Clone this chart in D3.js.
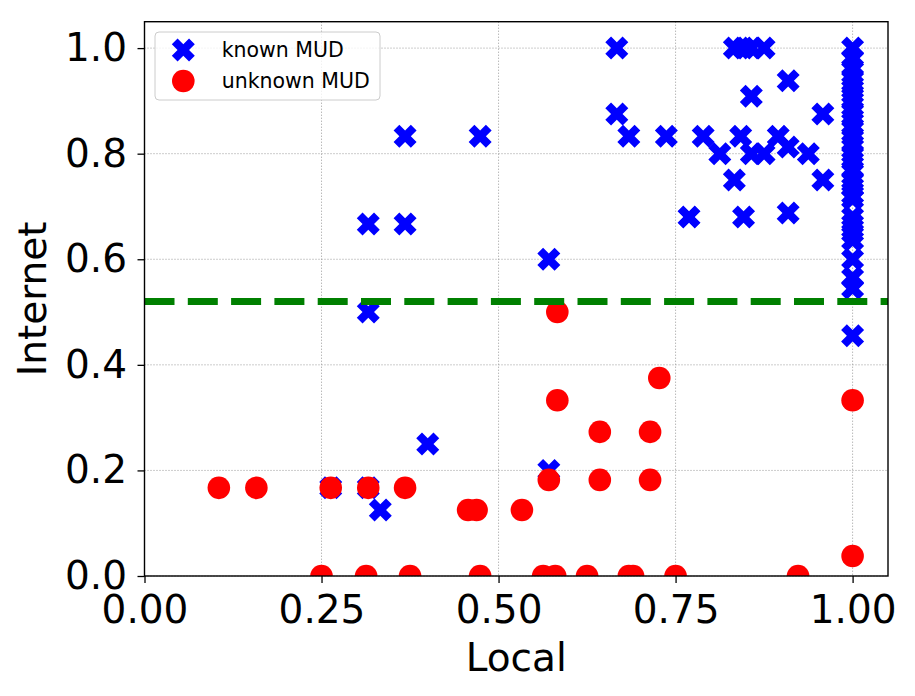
<!DOCTYPE html>
<html>
<head>
<meta charset="utf-8">
<script src="https://cdn.jsdelivr.net/npm/d3@7"></script>
<style>
  body { margin: 0; background: #fff; }
  text { font-family: "DejaVu Sans", sans-serif; fill: #000; }
</style>
</head>
<body>
<script>
// Data
// known MUD (blue X)
var knownX = [0.316, 0.316, 0.368, 0.368, 0.474, 0.571, 0.571, 0.263, 0.316, 0.333, 0.4,
              0.667, 0.667, 0.684, 0.737, 0.769, 0.789, 0.8125, 0.833, 0.842, 0.846, 0.857, 0.857, 0.875,
              0.895, 0.909, 0.909, 0.909, 0.9375, 0.958, 0.958,
              0.833, 0.846, 0.857, 0.875,
              1, 1, 1, 1, 1, 1, 1, 1, 1, 1, 1, 1, 1, 1, 1, 1, 1, 1, 1, 1, 1, 1, 1, 1, 1, 1, 1];
var knownY = [0.5, 0.667, 0.667, 0.833, 0.833, 0.6, 0.2, 0.167, 0.167, 0.125, 0.25,
              1.0, 0.875, 0.833, 0.833, 0.68, 0.833, 0.8, 0.75, 0.833, 0.68, 0.909, 0.8, 0.8,
              0.833, 0.938, 0.8125, 0.6875, 0.8, 0.875, 0.75,
              1.0, 1.0, 1.0, 1.0,
              1.0, 0.98, 0.962, 0.944, 0.929, 0.913, 0.9, 0.882, 0.867, 0.85, 0.833, 0.818, 0.8,
              0.786, 0.769, 0.75, 0.737, 0.722, 0.714, 0.68, 0.667, 0.65, 0.636, 0.6, 0.565, 0.545, 0.455];

// unknown MUD (red circles)
var unknownX = [0.105, 0.158, 0.263, 0.316, 0.368, 0.457, 0.469, 0.533, 0.571, 0.643, 0.714,
                0.643, 0.714, 0.727, 0.583, 0.583, 1.0, 1.0,
                0.25, 0.313, 0.375, 0.474, 0.563, 0.58, 0.625, 0.684, 0.69, 0.75, 0.923];
var unknownY = [0.167, 0.167, 0.167, 0.167, 0.167, 0.125, 0.125, 0.125, 0.182, 0.182, 0.182,
                0.273, 0.273, 0.375, 0.333, 0.5, 0.333, 0.038,
                0, 0, 0, 0, 0, 0, 0, 0, 0, 0, 0];

var threshold = 0.52;
var xTicks = [0, 0.25, 0.5, 0.75, 1.0];
var yTicks = [0, 0.2, 0.4, 0.6, 0.8, 1.0];
var seriesNames = ["known MUD", "unknown MUD"];

// Layout
var W = 915, H = 696;
var margin = {top: 21.7, right: 27, bottom: 120, left: 144.5};
var width = W - margin.left - margin.right;
var height = H - margin.top - margin.bottom;

var svg = d3.select("body").append("svg")
            .attr("width", W)
            .attr("height", H);

var g = svg.append("g")
           .attr("transform", "translate(" + margin.left + "," + margin.top + ")");

var x = d3.scaleLinear().domain([0, 1.05]).range([0, width]);
var y = d3.scaleLinear().domain([0, 1.05]).range([height, 0]);

// clip for markers
svg.append("defs").append("clipPath").attr("id", "plotclip")
   .append("rect").attr("width", width).attr("height", height);

// grid
g.selectAll(".gx").data(xTicks).enter().append("line")
 .attr("x1", d => x(d)).attr("x2", d => x(d))
 .attr("y1", 0).attr("y2", height)
 .attr("stroke", "#999").attr("stroke-width", 1)
 .attr("stroke-dasharray", "1,2");
g.selectAll(".gy").data(yTicks).enter().append("line")
 .attr("x1", 0).attr("x2", width)
 .attr("y1", d => y(d)).attr("y2", d => y(d))
 .attr("stroke", "#999").attr("stroke-width", 1)
 .attr("stroke-dasharray", "1,2");

// X marker (matplotlib "X" filled)
function xPath(s) {
  var p = [[-0.25,-0.5],[0,-0.25],[0.25,-0.5],[0.5,-0.25],[0.25,0],[0.5,0.25],
           [0.25,0.5],[0,0.25],[-0.25,0.5],[-0.5,0.25],[-0.25,0],[-0.5,-0.25]];
  return "M" + p.map(function(d){ return (d[0]*s) + "," + (d[1]*s); }).join("L") + "Z";
}
var markSize = 23;
var radius = 11.3;

var plot = g.append("g").attr("clip-path", "url(#plotclip)");

plot.selectAll(".known").data(knownX).enter().append("path")
    .attr("d", xPath(markSize))
    .attr("fill", "blue")
    .attr("transform", function(d, i) { return "translate(" + x(d) + "," + y(knownY[i]) + ")"; });

plot.selectAll(".unknown").data(unknownX).enter().append("circle")
    .attr("cx", d => x(d))
    .attr("cy", (d, i) => y(unknownY[i]))
    .attr("r", radius)
    .attr("fill", "red");

// threshold line
g.append("line")
 .attr("x1", 0).attr("x2", width)
 .attr("y1", y(threshold)).attr("y2", y(threshold))
 .attr("stroke", "green").attr("stroke-width", 7)
 .attr("stroke-dasharray", "30,13.3");

// axes
var xAxis = g.append("g")
  .attr("transform", "translate(0," + height + ")")
  .call(d3.axisBottom(x).tickValues(xTicks).tickFormat(d3.format(".2f")).tickSize(7).tickPadding(12.3).tickSizeOuter(0));
var yAxis = g.append("g")
  .call(d3.axisLeft(y).tickValues(yTicks).tickFormat(d3.format(".1f")).tickSize(7).tickPadding(10.5).tickSizeOuter(0));
[xAxis, yAxis].forEach(function(a) {
  a.select(".domain").remove();
  a.selectAll("line").attr("stroke", "#000").attr("stroke-width", 1.3);
  a.selectAll("text").style("font-size", "39px").attr("font-family", "DejaVu Sans, sans-serif");
});

// frame
g.append("rect").attr("width", width).attr("height", height)
 .attr("fill", "none").attr("stroke", "#000").attr("stroke-width", 1.4);

// axis labels
svg.append("text")
   .attr("x", margin.left + width / 2).attr("y", 671)
   .attr("text-anchor", "middle").style("font-size", "39px")
   .text("Local");
svg.append("text")
   .attr("transform", "translate(46," + (margin.top + height / 2) + ") rotate(-90)")
   .attr("text-anchor", "middle").style("font-size", "39px")
   .text("Internet");

// legend
var leg = svg.append("g").attr("transform", "translate(155,32)");
leg.append("rect").attr("width", 225).attr("height", 68).attr("rx", 4)
   .attr("fill", "#fff").attr("fill-opacity", 0.8)
   .attr("stroke", "#ccc").attr("stroke-width", 1);
leg.append("path").attr("d", xPath(markSize)).attr("fill", "blue")
   .attr("transform", "translate(28.3,18)");
leg.append("circle").attr("cx", 28.3).attr("cy", 49).attr("r", radius).attr("fill", "red");
leg.selectAll(".lt").data(seriesNames).enter().append("text")
   .attr("x", 66.7).attr("y", (d, i) => 24.7 + i * 31)
   .style("font-size", "20.5px")
   .text(d => d);
</script>
</body>
</html>
